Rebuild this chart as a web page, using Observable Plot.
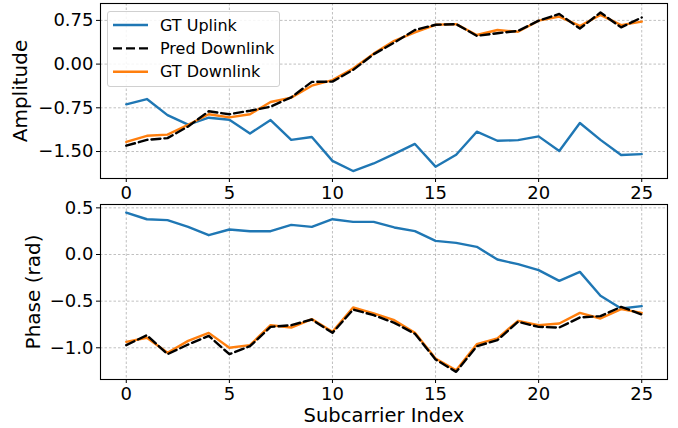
<!DOCTYPE html>
<html><head><meta charset="utf-8">
<script src="https://cdn.jsdelivr.net/npm/d3@7"></script>
<script src="https://cdn.jsdelivr.net/npm/@observablehq/plot@0.6"></script>
<style>
body{margin:0;background:#fff;font-family:"DejaVu Sans",sans-serif;}
#wrap{position:relative;width:678px;height:428px;background:#fff;}
#wrap svg{display:block;}
#legend{position:absolute;left:107px;top:11px;width:173px;height:76px;box-sizing:border-box;border:1px solid #d0d0d0;border-radius:3px;background:rgba(255,255,255,0.85);}
</style>
</head><body>
<div id="wrap"></div>
<script>
const subcarriers = [0,1,2,3,4,5,6,7,8,9,10,11,12,13,14,15,16,17,18,19,20,21,22,23,24,25];
const xTicks = [0,5,10,15,20,25];
const ampTicks = [-1.5,-0.75,0,0.75];
const phaseTicks = [-1.0,-0.5,0.0,0.5];

const ampGTUplink = [-0.69,-0.60,-0.875,-1.04,-0.92,-0.955,-1.19,-0.96,-1.30,-1.25,-1.66,-1.835,-1.705,-1.54,-1.37,-1.76,-1.555,-1.16,-1.315,-1.305,-1.24,-1.49,-1.01,-1.30,-1.56,-1.545];
const ampPredDownlink = [-1.40,-1.30,-1.27,-1.07,-0.81,-0.86,-0.80,-0.73,-0.57,-0.305,-0.30,-0.10,0.17,0.37,0.585,0.675,0.686,0.485,0.53,0.57,0.745,0.86,0.61,0.885,0.63,0.80];
const ampGTDownlink = [-1.335,-1.23,-1.21,-1.04,-0.86,-0.915,-0.86,-0.65,-0.575,-0.37,-0.275,-0.075,0.18,0.40,0.545,0.675,0.686,0.50,0.585,0.555,0.745,0.815,0.655,0.845,0.67,0.73];

const phaseGTUplink = [0.45,0.378,0.368,0.296,0.207,0.268,0.25,0.25,0.318,0.296,0.378,0.35,0.35,0.29,0.25,0.146,0.125,0.082,-0.054,-0.104,-0.168,-0.283,-0.186,-0.443,-0.579,-0.554];
const phasePredDownlink = [-0.972,-0.865,-1.069,-0.965,-0.872,-1.069,-0.983,-0.776,-0.758,-0.697,-0.84,-0.59,-0.65,-0.733,-0.85,-1.125,-1.258,-0.983,-0.918,-0.722,-0.776,-0.783,-0.675,-0.661,-0.561,-0.643];
const phaseGTDownlink = [-0.936,-0.893,-1.054,-0.926,-0.84,-1.0,-0.972,-0.758,-0.783,-0.693,-0.829,-0.568,-0.632,-0.704,-0.84,-1.115,-1.24,-0.961,-0.90,-0.711,-0.758,-0.74,-0.626,-0.686,-0.586,-0.626];

const seriesNames = ["GT Uplink","Pred Downlink","GT Downlink"];
const seriesColors = ["#1f77b4","#000000","#ff7f0e"];

function rows(a){ return subcarriers.map((x,i)=>({x, y:a[i]})); }

const FONT = "DejaVu Sans";
function panel({height, marginTop, marginBottom, yDomain, yTicks, yFmt, yLabel, yLabelDx, up, pred, gt, xLabel}){
  const marks = [
    Plot.gridX(xTicks,{stroke:"#b0b0b0",strokeOpacity:1,strokeDasharray:"2.5,2",strokeWidth:0.8}),
    Plot.gridY(yTicks,{stroke:"#b0b0b0",strokeOpacity:1,strokeDasharray:"2.5,2",strokeWidth:0.8}),
    Plot.line(rows(up),{x:"x",y:"y",stroke:seriesColors[0],strokeWidth:2.4}),
    Plot.line(rows(gt),{x:"x",y:"y",stroke:seriesColors[2],strokeWidth:2.4}),
    Plot.line(rows(pred),{x:"x",y:"y",stroke:seriesColors[1],strokeWidth:2.4,strokeDasharray:"9,4"}),
    Plot.frame({stroke:"black",strokeWidth:1.1}),
    Plot.axisX(xTicks,{tickSize:4,tickPadding:4,fontSize:18,label:null,stroke:"black",fill:"black"}),
    Plot.axisY(yTicks,{tickSize:4,tickPadding:3,fontSize:18,label:null,tickFormat:yFmt,stroke:"black",fill:"black"}),
    Plot.text([yLabel],{frameAnchor:"left",dx:yLabelDx,rotate:-90,textAnchor:"middle",lineAnchor:"middle",fontSize:20,fill:"black",text:d=>d})
  ];
  if (xLabel) marks.push(Plot.text([xLabel],{frameAnchor:"bottom",dy:36,textAnchor:"middle",lineAnchor:"middle",fontSize:19.5,fill:"black",text:d=>d}));
  return Plot.plot({
    width:678, height, marginLeft:100, marginRight:11, marginTop, marginBottom,
    style:{fontFamily:FONT, color:"black", background:"white", overflow:"visible"},
    x:{domain:[-1.25,26.25]},
    y:{domain:yDomain},
    marks
  });
}

const wrap = document.getElementById("wrap");
wrap.appendChild(panel({height:200, marginTop:3, marginBottom:22, yDomain:[-1.963,1.04], yTicks:ampTicks,
  yFmt:d3.format(".2f"), yLabel:"Amplitude", yLabelDx:-80, up:ampGTUplink, pred:ampPredDownlink, gt:ampGTDownlink}));
wrap.appendChild(panel({height:228, marginTop:4, marginBottom:49, yDomain:[-1.34,0.536], yTicks:phaseTicks,
  yFmt:d3.format(".1f"), yLabel:"Phase (rad)", yLabelDx:-67, up:phaseGTUplink, pred:phasePredDownlink, gt:phaseGTDownlink, xLabel:"Subcarrier Index"}));

// legend
const lg = document.createElement("div");
lg.id = "legend";
const ns = "http://www.w3.org/2000/svg";
const svg = document.createElementNS(ns,"svg");
svg.setAttribute("width","171"); svg.setAttribute("height","74");
svg.style.display="block";
seriesNames.forEach((name,i)=>{
  const cy = 13 + i*23.4;
  const ln = document.createElementNS(ns,"line");
  ln.setAttribute("x1","5"); ln.setAttribute("x2","40");
  ln.setAttribute("y1",cy); ln.setAttribute("y2",cy);
  ln.setAttribute("stroke",seriesColors[i]); ln.setAttribute("stroke-width","2.4");
  if (i===1) ln.setAttribute("stroke-dasharray","9,4");
  svg.appendChild(ln);
  const t = document.createElementNS(ns,"text");
  t.setAttribute("x","52"); t.setAttribute("y",cy);
  t.setAttribute("dy","0.35em");
  t.setAttribute("font-size","16"); t.setAttribute("font-family",FONT); t.setAttribute("fill","#000");
  t.textContent = name;
  svg.appendChild(t);
});
lg.appendChild(svg);
wrap.appendChild(lg);
</script>
</body></html>
